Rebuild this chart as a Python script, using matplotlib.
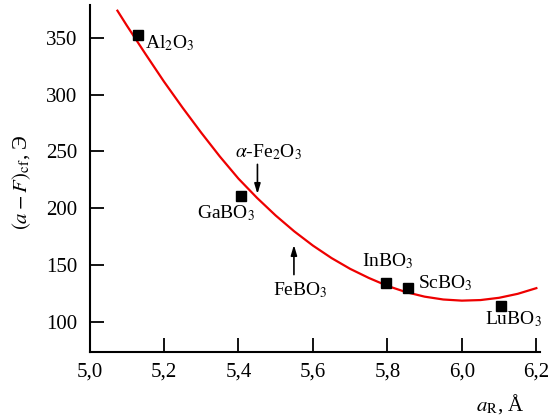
import numpy as np
import matplotlib
matplotlib.use("Agg")
import matplotlib.pyplot as plt
from matplotlib.ticker import FuncFormatter

plt.rcParams['font.family'] = ['Liberation Serif', 'DejaVu Serif']
plt.rcParams['mathtext.fontset'] = 'stix'

# measured compounds
names = ['Al$_2$O$_3$', 'GaBO$_3$', 'InBO$_3$', 'ScBO$_3$', 'LuBO$_3$']
a_r = [5.131, 5.408, 5.796, 5.854, 6.106]
val = [352.6, 210.3, 134.0, 129.7, 114.0]

# fitted curve
curve_x = [5.075, 5.10, 5.15, 5.20, 5.25, 5.30, 5.35, 5.40, 5.45, 5.50, 5.55, 5.60,
           5.65, 5.70, 5.75, 5.80, 5.85, 5.90, 5.95, 6.00, 6.05, 6.10, 6.15, 6.20]
curve_y = [374, 361, 336, 311.5, 288.5, 266.5, 245.5, 226, 209, 193.5, 179.5, 167,
           156, 146.5, 138.5, 131.5, 126, 122, 119.5, 118.5, 119, 121, 124.5, 129.5]

# label positions (x, y, ha)
lab_pos = [(5.149, 345.6, 'left'), (5.366, 196, 'center'), (5.800, 153, 'center'),
           (5.881, 134, 'left'), (6.139, 101.8, 'center')]

fig = plt.figure(figsize=(5.5, 4.19), dpi=100)
ax = fig.add_axes([89.5/550, 1-351.7/419, (539.7-89.5)/550, (351.7-5)/419])

ax.plot(curve_x, curve_y, color='#ee0000', lw=1.6, zorder=2)
ax.plot(a_r, val, 's', color='black', ms=7.5, zorder=3)

for n, (lx, ly, ha) in zip(names, lab_pos):
    ax.text(lx, ly, n, fontsize=14, ha=ha, va='center')

# arrows for the iron compounds
ax.annotate('', xy=(5.451, 210), xytext=(5.451, 241),
            arrowprops=dict(arrowstyle='-|>,head_width=0.18,head_length=0.6', color='black', lw=1.2))
ax.text(5.481, 249, r'$\alpha$-Fe$_2$O$_3$', fontsize=14, ha='center', va='center')
ax.annotate('', xy=(5.549, 170), xytext=(5.549, 139),
            arrowprops=dict(arrowstyle='-|>,head_width=0.18,head_length=0.6', color='black', lw=1.2))
ax.text(5.567, 128, 'FeBO$_3$', fontsize=14, ha='center', va='center')

ax.set_xlim(5.0, 6.209)
ax.set_ylim(73.5, 379)
ax.set_xticks([5.0, 5.2, 5.4, 5.6, 5.8, 6.0, 6.2])
ax.set_yticks([100, 150, 200, 250, 300, 350])
ax.xaxis.set_major_formatter(FuncFormatter(lambda v, p: ('%.1f' % v).replace('.', ',')))
ax.tick_params(direction='in', length=10, width=1.3, labelsize=15)
ax.tick_params(axis='x', pad=8)
ax.tick_params(axis='y', pad=9)
for s in ['top', 'right']:
    ax.spines[s].set_visible(False)
for s in ['left', 'bottom']:
    ax.spines[s].set_linewidth(1.5)

fig.text(22/550, 1-182/419, r'$(a - F)_{\mathrm{cf}}$, Э', rotation=90,
         fontsize=15, ha='center', va='center')
fig.text(500/550, 1-404/419, r'$a_{\mathrm{R}}$, Å', fontsize=15, ha='center', va='center')

fig.savefig('out.png', dpi=100)
